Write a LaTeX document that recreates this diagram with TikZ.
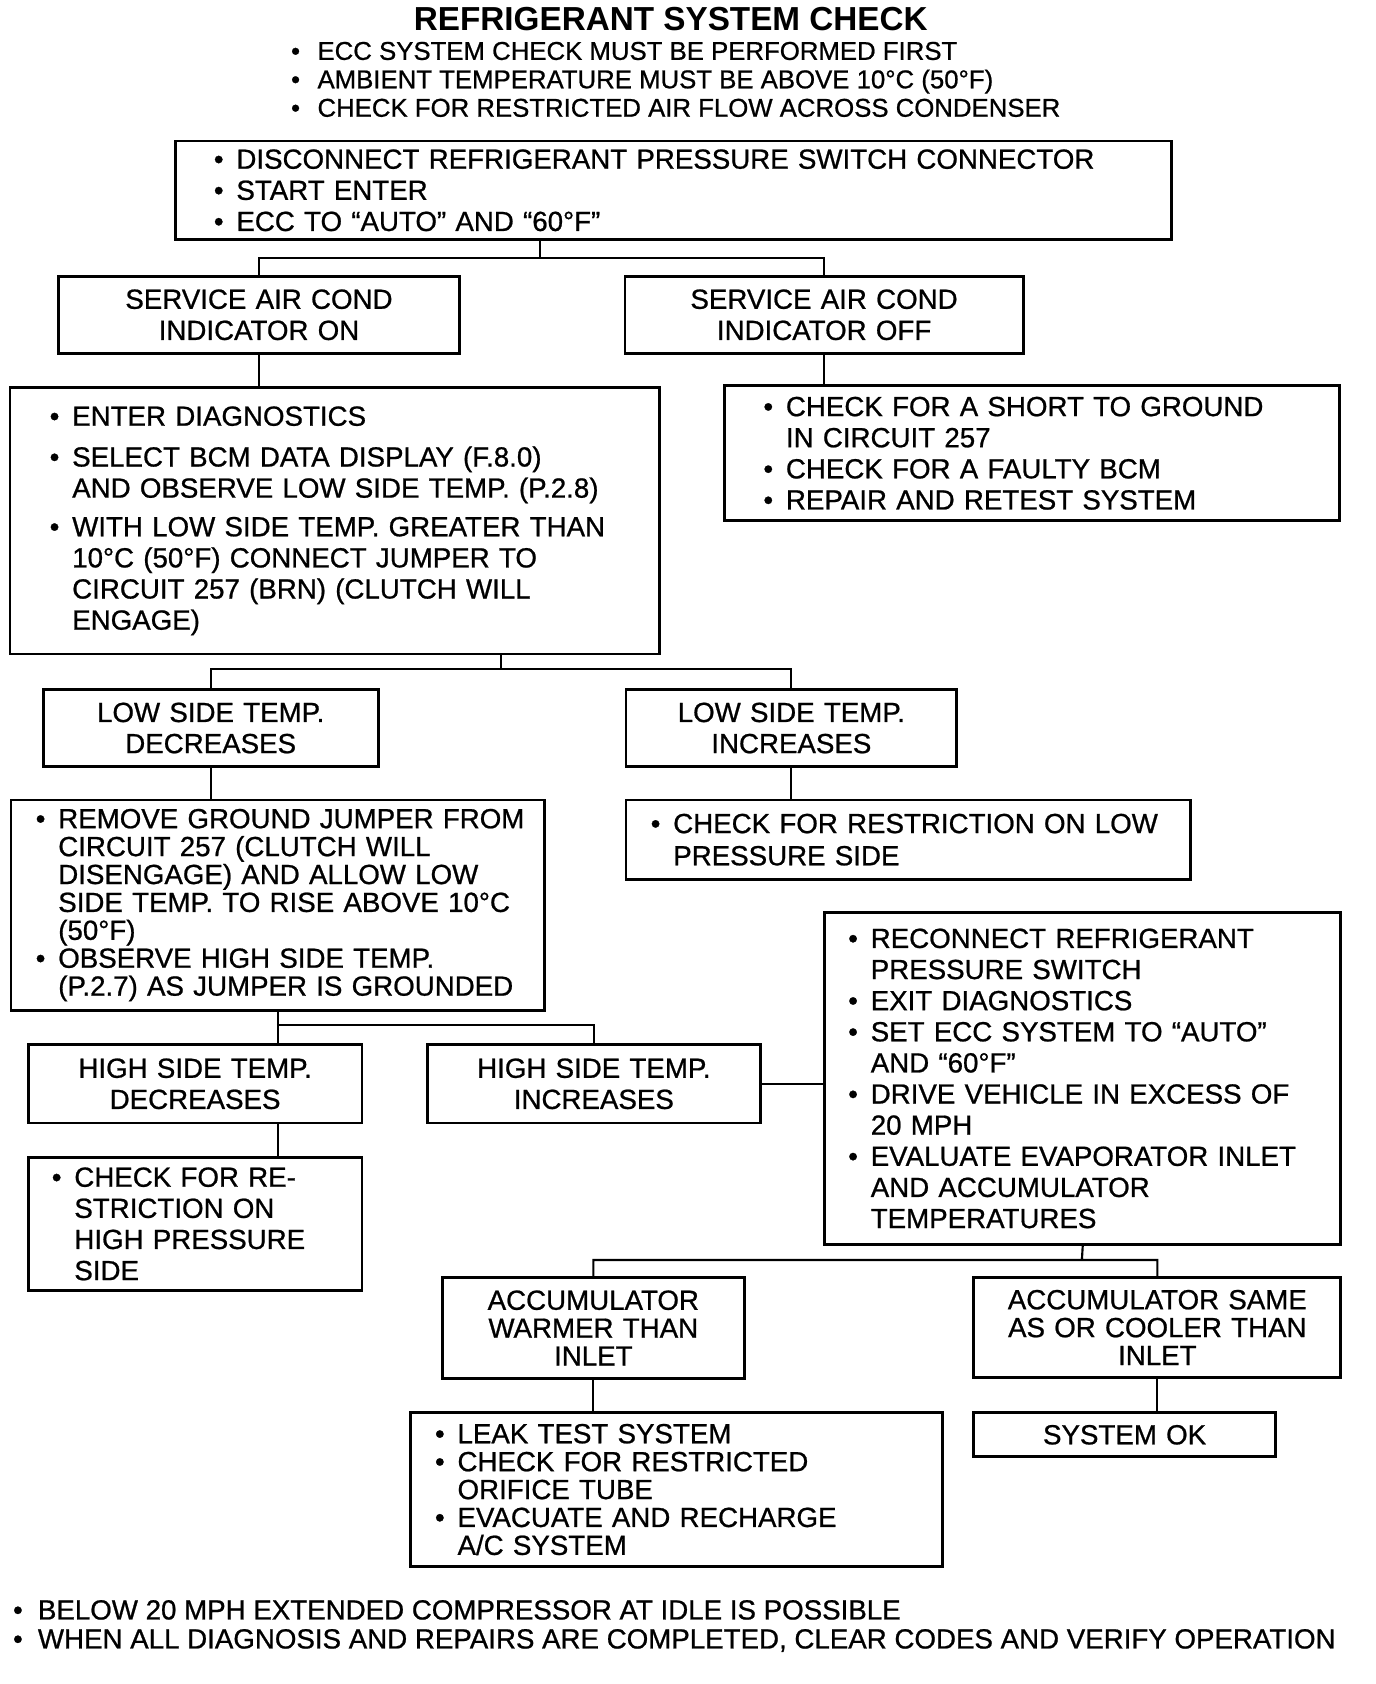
\documentclass[tikz,border=0pt]{standalone}
\usepackage{fontspec}
\setmainfont{Liberation Sans}
\newfontfamily\scanfont{Liberation Sans}[FakeBold=0.8]
\newcommand{\bt}[1][21pt]{\makebox[#1][l]{\textbullet}}
\newcommand{\cont}[1][21pt]{\hspace*{#1}}
\begin{document}
\begin{tikzpicture}[x=1pt,y=1pt,
    box/.style={draw, line width=2.6pt, inner ysep=0pt, anchor=north west,
      font=\scanfont\fontsize{25.8}{29}\selectfont},
    centbox/.style={box, align=center, inner xsep=0pt},
    listbox/.style={box, align=left, inner xsep=23pt},
    tight/.style={font=\scanfont\fontsize{25.8}{26}\selectfont},
    link/.style={line width=2pt}]
  \useasboundingbox (0,0) rectangle (1282,-1569);

  % heading
  \node[font=\bfseries\fontsize{31}{31}\selectfont] (title) at (625,-18) {REFRIGERANT SYSTEM CHECK};
  \node[anchor=west, align=left, inner sep=0pt, font=\scanfont\fontsize{24}{26.5}\selectfont] (pre) at (271,-74)
    {\bt[18pt] ECC SYSTEM CHECK MUST BE PERFORMED FIRST\\
     \bt[18pt] AMBIENT TEMPERATURE MUST BE ABOVE 10°C (50°F)\\
     \bt[18pt] CHECK FOR RESTRICTED AIR FLOW ACROSS CONDENSER};

  % boxes
  \node[listbox, minimum width=928, minimum height=92, inner xsep=36, text width=856] (disc) at (162,-130)
    {\bt DISCONNECT REFRIGERANT PRESSURE SWITCH CONNECTOR\\ \bt START ENTER\\ \bt ECC TO “AUTO” AND “60°F”};
  \node[centbox, minimum width=374, minimum height=72, text width=374] (acon) at (53,-256)
    {SERVICE AIR COND\\ INDICATOR ON};
  \node[centbox, minimum width=371, minimum height=72, text width=371] (acoff) at (581,-256)
    {SERVICE AIR COND\\ INDICATOR OFF};
  \node[listbox, minimum width=605, minimum height=248, inner xsep=37, text width=531] (diag) at (8,-360)
    {\bt ENTER DIAGNOSTICS\\[9pt]
     \bt SELECT BCM DATA DISPLAY (F.8.0)\\ \cont AND OBSERVE LOW SIDE TEMP. (P.2.8)\\[7pt]
     \bt WITH LOW SIDE TEMP. GREATER THAN\\ \cont 10°C (50°F) CONNECT JUMPER TO\\
     \cont CIRCUIT 257 (BRN) (CLUTCH WILL\\ \cont ENGAGE)};
  \node[listbox, minimum width=573, minimum height=126, inner xsep=36, text width=501] (short) at (674,-358)
    {\bt CHECK FOR A SHORT TO GROUND\\ \cont IN CIRCUIT 257\\ \bt CHECK FOR A FAULTY BCM\\ \bt REPAIR AND RETEST SYSTEM};
  \node[centbox, minimum width=312, minimum height=72, text width=312] (lowdec) at (39,-641)
    {LOW SIDE TEMP.\\ DECREASES};
  \node[centbox, minimum width=308, minimum height=72, text width=308] (lowinc) at (582,-641)
    {LOW SIDE TEMP.\\ INCREASES};
  \node[listbox, tight, minimum width=497, minimum height=196, text width=451] (jumper) at (9,-744)
    {\mbox{\bt REMOVE GROUND JUMPER FROM}\\ \cont CIRCUIT 257 (CLUTCH WILL\\ \cont DISENGAGE) AND ALLOW LOW\\
     \mbox{\cont SIDE TEMP. TO RISE ABOVE 10°C}\\ \cont (50°F)\\
     \bt OBSERVE HIGH SIDE TEMP.\\ \mbox{\cont (P.2.7) AS JUMPER IS GROUNDED}};
  \node[listbox, font=\scanfont\fontsize{25.8}{30}\selectfont, minimum width=526, minimum height=74, text width=480] (lowres) at (582,-744)
    {\bt CHECK FOR RESTRICTION ON LOW\\ \cont PRESSURE SIDE};
  \node[centbox, minimum width=311, minimum height=73, text width=311] (hidec) at (25,-972)
    {HIGH SIDE TEMP.\\ DECREASES};
  \node[centbox, minimum width=310, minimum height=73, text width=310] (hiinc) at (397,-972)
    {HIGH SIDE TEMP.\\ INCREASES};
  \node[listbox, minimum width=481, minimum height=309, inner xsep=22, text width=437] (recon) at (767,-849)
    {\bt RECONNECT REFRIGERANT\\ \cont PRESSURE SWITCH\\ \bt EXIT DIAGNOSTICS\\
     \bt SET ECC SYSTEM TO “AUTO”\\ \cont AND “60°F”\\ \bt DRIVE VEHICLE IN EXCESS OF\\ \cont 20 MPH\\
     \bt EVALUATE EVAPORATOR INLET\\ \cont AND ACCUMULATOR\\ \cont TEMPERATURES};
  \node[listbox, minimum width=311, minimum height=124, inner xsep=22, text width=267] (hires) at (25,-1077)
    {\bt CHECK FOR RE-\\ \cont STRICTION ON\\ \cont HIGH PRESSURE\\ \cont SIDE};
  \node[centbox, tight, minimum width=281, minimum height=94, text width=281] (warm) at (411,-1189)
    {ACCUMULATOR\\ WARMER THAN\\ INLET};
  \node[centbox, tight, minimum width=342, minimum height=93, text width=342] (cool) at (906,-1189)
    {ACCUMULATOR SAME\\ AS OR COOLER THAN\\ INLET};
  \node[listbox, tight, minimum width=496, minimum height=143, text width=450] (leak) at (381,-1315)
    {\bt LEAK TEST SYSTEM\\ \bt CHECK FOR RESTRICTED\\ \cont ORIFICE TUBE\\ \bt EVACUATE AND RECHARGE\\ \cont A/C SYSTEM};
  \node[centbox, minimum width=281, minimum height=41, text width=281] (sysok) at (906,-1315) {SYSTEM OK};

  % footnotes
  \node[anchor=west, align=left, inner sep=0pt, font=\scanfont\fontsize{25.8}{27}\selectfont] (notes) at (12,-1515)
    {\bt[16pt] BELOW 20 MPH EXTENDED COMPRESSOR AT IDLE IS POSSIBLE\\
     \bt[16pt] WHEN ALL DIAGNOSIS AND REPAIRS ARE COMPLETED, CLEAR CODES AND VERIFY OPERATION};

  % connectors
  \coordinate (j1) at (503,-240);
  \coordinate (j2) at (467,-623);
  \coordinate (j3) at (258,-955);
  \coordinate (j4) at (1008,-1174);
  \draw[link] (disc.south -| j1) -- (j1) (acon.north) |- (j1) -| (acoff.north);
  \draw[link] (acon.south) -- (acon.south |- diag.north);
  \draw[link] (acoff.south) -- (acoff.south |- short.north);
  \draw[link] (diag.south -| j2) -- (j2) (lowdec.north) |- (j2) -| (lowinc.north);
  \draw[link] (lowdec.south) -- (lowdec.south |- jumper.north);
  \draw[link] (lowinc.south) -- (lowinc.south |- lowres.north);
  \draw[link] (jumper.south) -- (jumper.south |- hidec.north) (j3) -| (hiinc.north);
  \draw[link] (hiinc.east) -- (hiinc.east -| recon.west);
  \draw[link] (jumper.south |- hidec.south) -- (jumper.south |- hires.north);
  \draw[link] (recon.south) -- (j4) (warm.north) |- (j4) -| (cool.north);
  \draw[link] (warm.south) -- (warm.south |- leak.north);
  \draw[link] (cool.south) -- (cool.south |- sysok.north);
\end{tikzpicture}
\end{document}
